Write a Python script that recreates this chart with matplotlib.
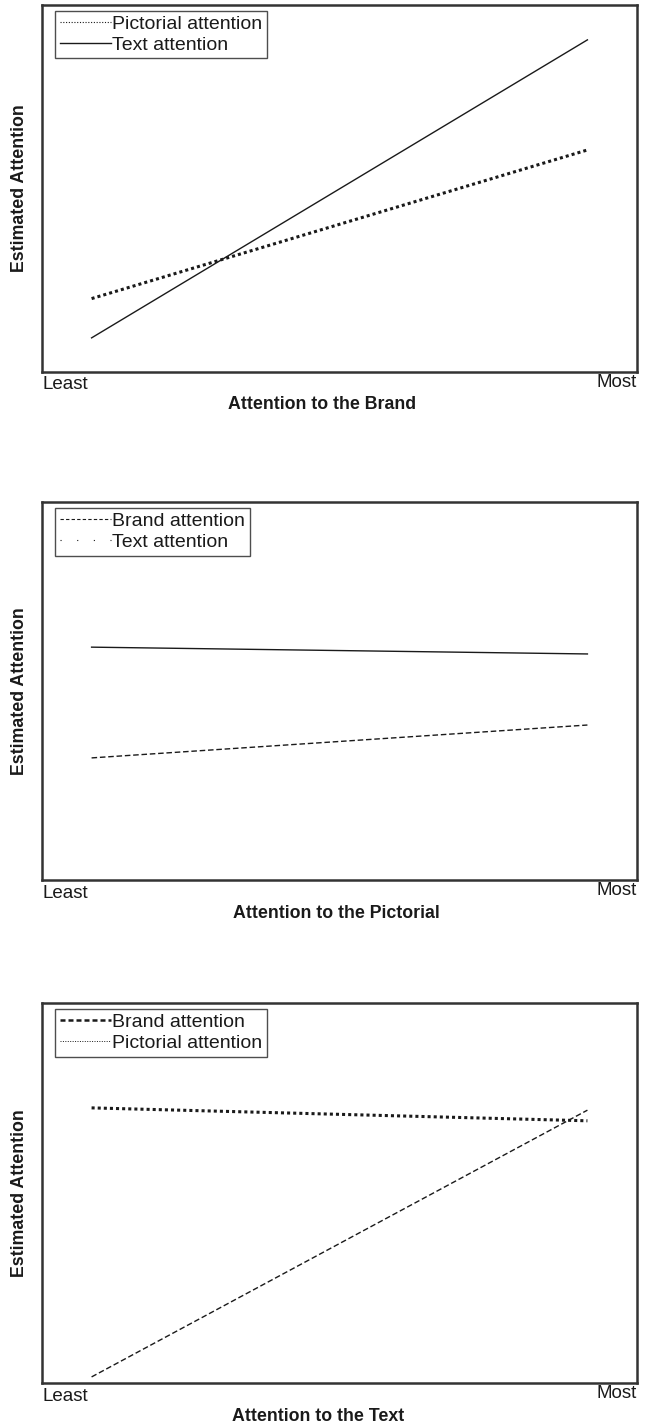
import matplotlib
matplotlib.use("Agg")
import matplotlib.pyplot as plt
from matplotlib.lines import Line2D

plt.rcParams['font.family'] = ['Liberation Sans', 'DejaVu Sans']

# x positions: Least -> Most
x_levels = [0, 1]
x_tick_labels = ["Least", "Most"]

# Panel 1: Attention to the Brand
p1_pictorial = [20.0, 60.5]
p1_text = [9.3, 90.5]
# Panel 2: Attention to the Pictorial
p2_text = [61.6, 59.8]
p2_brand = [32.3, 41.0]
# Panel 3: Attention to the Text
p3_brand = [72.4, 69.0]
p3_pictorial = [1.6, 71.8]

xlabels = ["Attention to the Brand", "Attention to the Pictorial", "Attention to the Text"]
ylabel = "Estimated Attention"

W, H = 647, 1427
fig = plt.figure(figsize=(W / 100, H / 100), dpi=100)

def frac_box(top_px, bottom_px, left_px=42, right_px=637):
    return [left_px / W, 1 - bottom_px / H, (right_px - left_px) / W, (bottom_px - top_px) / H]

boxes = [frac_box(5, 372), frac_box(502, 880), frac_box(1003, 1383)]
xlabel_pos = [0.47, 0.494, 0.464]
col = "#1a1a1a"

def style(ax, xlabel, xpos):
    ax.set_xlim(-0.1, 1.1)
    ax.set_ylim(0, 100)
    ax.set_xticks([])
    ax.set_yticks([])
    for s in ax.spines.values():
        s.set_linewidth(1.8)
        s.set_color("#333333")
    ax.text(0, -0.012, x_tick_labels[0], transform=ax.transAxes, ha="left", va="top", fontsize=13.5, color=col)
    ax.text(1, -0.006, x_tick_labels[1], transform=ax.transAxes, ha="right", va="top", fontsize=13.5, color=col)
    ax.text(xpos, -0.066, xlabel, transform=ax.transAxes, ha="center", va="top", fontsize=12.75,
            fontweight="bold", color=col)
    ax.text(-0.037, 0.5, ylabel, transform=ax.transAxes, ha="center", va="center", rotation=90,
            fontsize=12.75, fontweight="bold", color=col)

def legend(ax, handles, labels):
    leg = ax.legend(handles, labels, loc="upper left", bbox_to_anchor=(0.022, 0.985), fontsize=14,
                    frameon=True, fancybox=False, handlelength=2.6, handletextpad=0.1,
                    borderpad=0.25, labelspacing=0.15, borderaxespad=0.0)
    leg.get_frame().set_edgecolor("#222222")
    leg.get_frame().set_linewidth(1.0)
    for t in leg.get_texts():
        t.set_color(col)

# Panel 1
ax1 = fig.add_axes(boxes[0])
ax1.plot(x_levels, p1_pictorial, color=col, lw=2.2, linestyle=(0, (1, 1)))
ax1.plot(x_levels, p1_text, color=col, lw=1.0, linestyle="-")
style(ax1, xlabels[0], xlabel_pos[0])
legend(ax1,
       [Line2D([], [], color=col, lw=0.8, linestyle=(0, (1, 1.5))),
        Line2D([], [], color=col, lw=1.0, linestyle="-")],
       ["Pictorial attention", "Text attention"])

# Panel 2
ax2 = fig.add_axes(boxes[1])
ax2.plot(x_levels, p2_text, color=col, lw=1.0, linestyle="-")
ax2.plot(x_levels, p2_brand, color=col, lw=1.0, linestyle=(0, (4, 2)))
style(ax2, xlabels[1], xlabel_pos[1])
legend(ax2,
       [Line2D([], [], color=col, lw=0.8, linestyle=(0, (3, 2))),
        Line2D([], [], color=col, lw=0.8, linestyle=(0, (1, 14)))],
       ["Brand attention", "Text attention"])

# Panel 3
ax3 = fig.add_axes(boxes[2])
ax3.plot(x_levels, p3_brand, color=col, lw=2.2, linestyle=(0, (1, 1)))
ax3.plot(x_levels, p3_pictorial, color=col, lw=1.0, linestyle=(0, (4, 2)))
style(ax3, xlabels[2], xlabel_pos[2])
legend(ax3,
       [Line2D([], [], color=col, lw=1.8, linestyle=(0, (2, 1.2))),
        Line2D([], [], color=col, lw=0.7, linestyle=(0, (1, 1.5)))],
       ["Brand attention", "Pictorial attention"])

fig.savefig("out.png", dpi=100)
